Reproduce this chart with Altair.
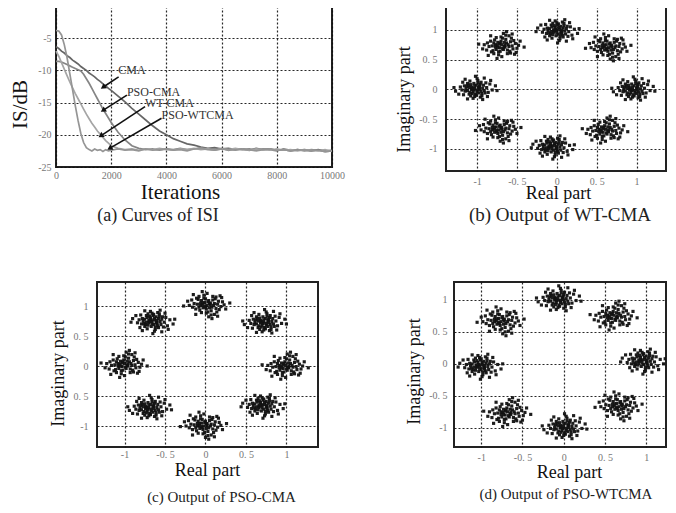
import math
import altair as alt
import pandas as pd

# ---------------- (a) ISI curves ----------------
iters = [0, 100, 200, 300, 400, 500, 600, 700, 800, 900, 1000, 1100, 1200, 1300, 1400,
         1500, 1600, 1700, 1800, 1900, 2000, 2250, 2500, 2750, 3000, 3250, 3500, 3750,
         4000, 4250, 4500, 4750, 5000, 5250, 5500, 5750, 6000, 6250, 6500, 6750, 7000,
         7250, 7500, 7750, 8000, 8250, 8500, 8750, 9000, 9250, 9500, 9750, 10000]
cma = [-6.3, -6.6, -7.0, -7.3, -7.7, -8.0, -8.4, -8.7, -9.0, -9.4, -9.7, -10.0, -10.4, -10.7,
       -11.0, -11.4, -11.7, -12.1, -12.4, -12.8, -13.1, -14.0, -14.9, -15.9, -16.8, -17.7,
       -18.6, -19.4, -20.0, -20.6, -21.0, -21.4, -21.6, -21.9, -22.1, -22.0, -22.2, -22.1,
       -22.3, -22.2, -22.4, -22.1, -22.3, -22.2, -22.4, -22.3, -22.5, -22.3, -22.4, -22.5,
       -22.3, -22.5, -22.4]
pso_cma = [-8.6, -8.6, -8.7, -8.9, -9.1, -9.3, -9.5, -9.7, -9.9, -10.1, -10.6, -11.3, -12.0,
           -12.8, -13.6, -14.4, -15.2, -16.0, -16.7, -17.4, -18.1, -19.6, -20.8, -21.7, -22.1,
           -22.3, -22.2, -22.4, -22.2, -22.3, -22.1, -22.3, -22.2, -22.0, -22.2, -22.3, -22.1,
           -22.4, -22.2, -22.3, -22.2, -22.4, -22.2, -22.3, -22.5, -22.2, -22.4, -22.3, -22.5,
           -22.3, -22.4, -22.6, -22.5]
wt_cma = [-7.0, -7.8, -8.8, -9.8, -10.8, -11.8, -12.7, -13.6, -14.4, -15.2, -16.0, -16.8,
          -17.5, -18.2, -18.8, -19.4, -19.9, -20.4, -20.9, -21.3, -21.7, -22.1, -22.3, -22.2,
          -22.4, -22.2, -22.3, -22.1, -22.3, -22.4, -22.2, -22.3, -22.1, -22.3, -22.2, -22.4,
          -22.2, -22.3, -22.1, -22.3, -22.4, -22.2, -22.3, -22.4, -22.2, -22.4, -22.3, -22.5,
          -22.3, -22.4, -22.5, -22.3, -22.6]
pso_wtcma = [-3.8, -3.9, -4.5, -6.0, -8.0, -10.5, -13.0, -15.5, -17.8, -19.8, -21.2, -22.0,
             -22.3, -22.5, -22.2, -22.4, -22.3, -22.6, -22.3, -22.5, -22.4, -22.2, -22.4,
             -22.3, -22.5, -22.2, -22.4, -22.3, -22.2, -22.4, -22.3, -22.5, -22.2, -22.1,
             -22.3, -22.4, -22.2, -22.3, -22.4, -22.2, -22.3, -22.5, -22.3, -22.2, -22.4,
             -22.3, -22.5, -22.4, -22.3, -22.5, -22.4, -22.6, -22.5]
series_names = ["CMA", "PSO-CMA", "WT-CMA", "PSO-WTCMA"]
series_vals = [cma, pso_cma, wt_cma, pso_wtcma]
series_colors = ["#666666", "#858585", "#a5a5a5", "#959595"]

# annotation labels and arrows (start -> tip)
ann_text = ["CMA", "PSO-CMA", "WT-CMA", "PSO-WTCMA"]
ann_tx = [2258, 2570, 3226, 3824]
ann_ty = [-9.95, -13.3, -15.1, -16.9]
arr_x0 = [2269, 2570, 3226, 3824]
arr_y0 = [-11.0, -13.83, -15.62, -17.42]
arr_x1 = [1731, 1731, 1649, 1971]
arr_y1 = [-12.54, -16.14, -20.08, -22.03]

# ---------------- constellations ----------------
ticks_c = [-1, -0.5, 0, 0.5, 1]
b_cx = [0.0, 0.66, 0.95, 0.62, -0.06, -0.72, -1.03, -0.68]
b_cy = [0.99, 0.71, 0.0, -0.68, -0.96, -0.67, 0.01, 0.74]
c_cx = [0.03, 0.72, 1.0, 0.70, -0.01, -0.70, -0.99, -0.66]
c_cy = [1.02, 0.73, 0.0, -0.66, -0.99, -0.70, 0.03, 0.75]
d_cx = [-0.07, 0.62, 0.95, 0.68, 0.0, -0.67, -1.02, -0.75]
d_cy = [1.01, 0.75, 0.05, -0.66, -0.99, -0.76, -0.03, 0.67]

# cloud offsets (hundredths) read from the cluster shapes
cloud_a = [(0, 0), (3, 2), (-4, 1), (6, -3), (-7, -2), (2, -6), (-2, 5), (8, 4), (-9, 3), (5, 7),
           (-5, -7), (1, 9), (-1, -9), (10, -1), (-11, 0), (4, -10), (-3, 8), (7, -8), (-6, 6),
           (0, -4), (9, 8), (-8, -6), (3, 5), (-10, -4), (12, 3), (-12, 4), (6, 1), (-4, -3),
           (2, 11), (-7, 9), (11, -6), (-1, 2), (5, -2), (-9, -9), (8, -11), (-5, 12), (0, 13),
           (13, 7), (-13, -5), (4, -14), (15, -2), (-16, 2), (17, 6), (-14, 10), (9, 12),
           (-18, -3), (19, -8), (-6, -13), (7, 14), (14, -10), (-15, -11), (3, -17), (-2, 16),
           (22, 2), (-24, 4), (26, -5), (10, 18), (-20, 9), (1, -21), (-9, 17), (16, 13),
           (-12, -16), (6, -5), (20, -14), (-3, -1), (28, 3), (-26, -2), (12, -18)]
cloud_b = [(1, -1), (-3, 3), (4, 4), (-5, -4), (7, 0), (-8, 2), (2, -7), (-1, 7), (6, -5), (-6, 8),
           (9, 3), (-10, -6), (3, 10), (-4, -10), (11, -4), (-12, 1), (0, -12), (5, 11), (-7, -1),
           (8, 7), (-2, -5), (10, -9), (-9, 10), (13, 1), (-13, 6), (4, -2), (-3, 0), (6, 3),
           (-11, -12), (12, 9), (0, 5), (2, -14), (-6, 14), (15, -7), (-16, -3), (14, 11),
           (-14, -8), (8, -13), (-10, 13), (17, 2), (-18, 5), (5, 16), (-4, -17), (19, -4),
           (-20, 0), (11, 14), (-15, 15), (20, 8), (-8, -16), (23, -1), (-22, -7), (1, 19),
           (-1, -20), (25, 6), (-27, 3), (15, -16), (-17, 12), (7, 22), (-5, -23), (30, -2),
           (-12, -19), (18, 17), (9, -1), (-2, 2), (3, -4)]
clouds = [cloud_a, cloud_b]
flips = [(1, 1), (-1, 1), (1, -1), (-1, -1)]

SERIF = "Liberation Serif"


def isi_panel():
    rows = []
    for name, vals in zip(series_names, series_vals):
        for x, y in zip(iters, vals):
            rows.append({"it": x, "isi": y, "alg": name})
    df = pd.DataFrame(rows)
    W, H = 276, 161
    xs = alt.Scale(domain=[0, 10000], nice=False)
    ys = alt.Scale(domain=[-25, 0], nice=False)
    base = alt.Chart(df)
    lines = base.mark_line(strokeWidth=1.7).encode(
        x=alt.X("it:Q", scale=xs, axis=alt.Axis(
            values=[0, 2000, 4000, 6000, 8000, 10000], labelExpr="toString(datum.value)",
            title="Iterations", titleFontSize=21, titleX=124, titleY=25,
            titleBaseline="middle", labelPadding=3, labelFlush=False)),
        y=alt.Y("isi:Q", scale=ys, axis=alt.Axis(
            values=[-25, -20, -15, -10, -5], labelExpr="toString(datum.value)",
            title="IS/dB", titleFontSize=21, titleX=-36, titleY=98,
            titleBaseline="middle", labelPadding=5)),
        color=alt.Color("alg:N", scale=alt.Scale(domain=series_names, range=series_colors),
                        legend=None),
        detail="alg:N",
    )
    adf = pd.DataFrame({"t": ann_text, "x": ann_tx, "y": ann_ty})
    txt = alt.Chart(adf).mark_text(align="left", baseline="middle", font=SERIF,
                                   fontSize=12, color="#333").encode(
        x=alt.X("x:Q", scale=xs), y=alt.Y("y:Q", scale=ys), text="t:N")
    angs = []
    for x0, y0, x1, y1 in zip(arr_x0, arr_y0, arr_x1, arr_y1):
        dx = (x1 - x0) * W / 10000.0
        dy = -(y1 - y0) * H / 25.0
        angs.append(math.degrees(math.atan2(dx, -dy)) % 360)
    rdf = pd.DataFrame({"x0": arr_x0, "y0": arr_y0, "x1": arr_x1, "y1": arr_y1, "ang": angs})
    rule = alt.Chart(rdf).mark_rule(color="#111", strokeWidth=1.6).encode(
        x=alt.X("x0:Q", scale=xs), y=alt.Y("y0:Q", scale=ys), x2="x1:Q", y2="y1:Q")
    head = alt.Chart(rdf).mark_point(shape="triangle", filled=True, size=38, color="#111",
                                     opacity=1).encode(
        x=alt.X("x1:Q", scale=xs), y=alt.Y("y1:Q", scale=ys),
        angle=alt.Angle("ang:Q", scale=None))
    return alt.layer(lines, rule, head, txt).properties(
        width=W, height=H,
        title=alt.TitleParams("(a) Curves  of  ISI", orient="bottom", anchor="middle",
                              frame="group", font=SERIF, fontSize=18, fontWeight="normal",
                              color="#222", dx=-36, offset=5))


def const_panel(cx, cy, xdom, ydom, W, H, shift, caption, cap_dx, cap_size, cap_off,
                ytitle_x, ytitle_y, xtitle_x, xtitle_y, xpad, ypad, ylabel_expr):
    rows = []
    for k, (x0, y0) in enumerate(zip(cx, cy)):
        cl = clouds[(k + shift) % 2]
        fx, fy = flips[(k + shift) % 4]
        for dx, dy in cl:
            rows.append({"re": x0 + fx * dx / 100.0, "im": y0 + fy * dy / 100.0})
    df = pd.DataFrame(rows)
    pts = alt.Chart(df).mark_square(size=10, color="#111", opacity=0.95, clip=True).encode(
        x=alt.X("re:Q", scale=alt.Scale(domain=xdom, nice=False, zero=False), axis=alt.Axis(
            values=ticks_c, labelExpr="replace(toString(datum.value), '.', '. ')",
            title="Real part", titleFontSize=18, titleX=xtitle_x, titleY=xtitle_y,
            titleBaseline="middle", labelPadding=xpad, labelFlush=False)),
        y=alt.Y("im:Q", scale=alt.Scale(domain=ydom, nice=False, zero=False), axis=alt.Axis(
            values=ticks_c, labelExpr=ylabel_expr,
            title="Imaginary part", titleFontSize=18, titleX=ytitle_x, titleY=ytitle_y,
            titleBaseline="middle", labelPadding=ypad)),
    )
    return pts.properties(
        width=W, height=H,
        title=alt.TitleParams(caption, orient="bottom", anchor="middle", frame="group",
                              font=SERIF, fontSize=cap_size, fontWeight="normal",
                              color="#222", dx=cap_dx, offset=cap_off))


std_lab = "replace(toString(datum.value), '.', '. ')"
c_lab = "replace(replace(toString(datum.value), '.', '. '), '-0', '0')"

pa = isi_panel()
pb = const_panel(b_cx, b_cy, [-1.39, 1.37], [-1.37, 1.4], 220, 165, 0,
                 "(b) Output  of  WT-CMA", 4, 19, 4, -42, 93, 112, 22, 5, 9, std_lab)
pc = const_panel(c_cx, c_cy, [-1.34, 1.39], [-1.35, 1.4], 221, 165, 1,
                 "(c) Output of PSO-CMA", 14, 15, 11, -39, 91, 110, 23, 2, 9, c_lab)
pd_ = const_panel(d_cx, d_cy, [-1.33, 1.24], [-1.3, 1.28], 212, 165, 2,
                  "(d) Output of PSO-WTCMA", 6, 15, 6, -40, 89, 115, 25, 5, 7, std_lab)

spacer = alt.Chart(pd.DataFrame({"v": [0]})).mark_text(text="").encode(
    x=alt.value(0), y=alt.value(0)).properties(
    width=41, height=165, view=alt.ViewBackground(stroke="transparent"))

# nested flush groups count as zero-size, so spacings are measured from group origins
row1 = alt.hconcat(pa, pb, spacing=114, bounds="flush")
row2 = alt.hconcat(alt.hconcat(spacer, pc, spacing=0, bounds="flush"), pd_,
                   spacing=398, bounds="flush")

chart = alt.vconcat(row1, row2, spacing=276, bounds="flush").properties(
    padding={"left": 0, "top": -3, "right": 0, "bottom": 0}
).configure_view(
    stroke="#222", strokeWidth=2
).configure_axis(
    grid=True, gridColor="#111", gridDash=[2, 2], gridWidth=1.2, gridOpacity=0.9,
    domain=False, ticks=False, tickSize=0, labelFont=SERIF, labelFontSize=10,
    labelColor="#777", titleFont=SERIF, titleFontWeight="normal", titleColor="#111",
    labelOverlap=False
)

chart.save("out.html", embed_options={"renderer": "svg", "actions": False})
